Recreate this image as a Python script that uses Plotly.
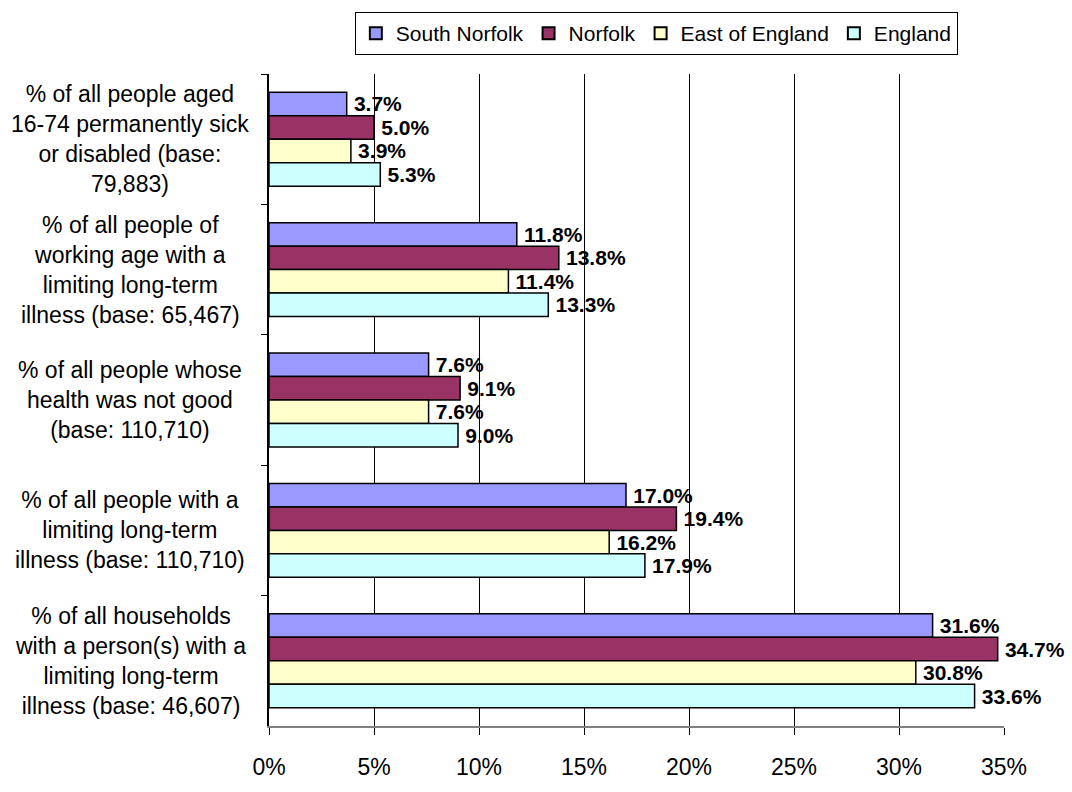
import plotly.graph_objects as go

# Health indicators, 2001 Census
categories = [
    "% of all people aged<br>16-74 permanently sick<br>or disabled (base:<br>79,883)",
    "% of all people of<br>working age with a<br>limiting long-term<br>illness (base: 65,467)",
    "% of all people whose<br>health was not good<br>(base: 110,710)",
    "% of all people with a<br>limiting long-term<br>illness (base: 110,710)",
    "% of all households<br>with a person(s) with a<br>limiting long-term<br>illness (base: 46,607)",
]
south_norfolk = [3.7, 11.8, 7.6, 17.0, 31.6]
norfolk = [5.0, 13.8, 9.1, 19.4, 34.7]
east_of_england = [3.9, 11.4, 7.6, 16.2, 30.8]
england = [5.3, 13.3, 9.0, 17.9, 33.6]

series = [
    ("South Norfolk", south_norfolk, "#9999FF"),
    ("Norfolk", norfolk, "#993366"),
    ("East of England", east_of_england, "#FFFFCC"),
    ("England", england, "#CCFFFF"),
]
x_ticks = [0, 5, 10, 15, 20, 25, 30, 35]

FONT = "Liberation Sans, Arial, sans-serif"
keys = list(range(len(categories)))

fig = go.Figure()
for name, vals, color in series:
    fig.add_trace(go.Bar(
        name=name,
        y=keys,
        x=vals,
        orientation="h",
        marker=dict(color=color, line=dict(color="#000000", width=1.5)),
        texttemplate="\u2009%{x:.1f}%",
        textposition="outside",
        textfont=dict(family=FONT, size=21, color="#000000", weight="bold"),
        constraintext="none",
        cliponaxis=False,
    ))

# category labels, centred beside the axis
for k, label in zip(keys, categories):
    fig.add_annotation(
        x=-0.189, xref="paper", y=k, yref="y",
        text=label, showarrow=False, align="center",
        xanchor="center", yanchor="middle",
        font=dict(family=FONT, size=23, color="#000000"),
    )

fig.update_layout(
    width=1072, height=792,
    margin=dict(l=269, r=68, t=64, b=47),
    paper_bgcolor="#FFFFFF", plot_bgcolor="#FFFFFF",
    barmode="group", bargap=0.28, bargroupgap=0,
    font=dict(family=FONT, size=23, color="#000000"),
    showlegend=True,
    legend=dict(
        orientation="h", x=0.527, xanchor="center", y=1.095, yanchor="top",
        bordercolor="#000000", borderwidth=1, bgcolor="#FFFFFF",
        font=dict(family=FONT, size=21, color="#000000"),
        traceorder="normal", itemsizing="constant",
    ),
    xaxis=dict(
        range=[0, 35], tickvals=x_ticks, ticktext=[f"{v}%" for v in x_ticks],
        showgrid=True, gridcolor="#000000", gridwidth=1,
        zeroline=False, showline=True, linecolor="#808080", linewidth=2,
        ticks="outside", ticklen=7, tickcolor="#000000",
        ticklabelstandoff=12,
        tickfont=dict(family=FONT, size=23, color="#000000"),
    ),
    yaxis=dict(
        type="category", autorange="reversed",
        categoryorder="array", categoryarray=keys,
        showticklabels=False, tickson="boundaries",
        ticks="outside", ticklen=6, tickcolor="#000000",
        showgrid=False, zeroline=False,
        showline=True, linecolor="#000000", linewidth=1.5,
    ),
)

fig.write_html("out.html")
